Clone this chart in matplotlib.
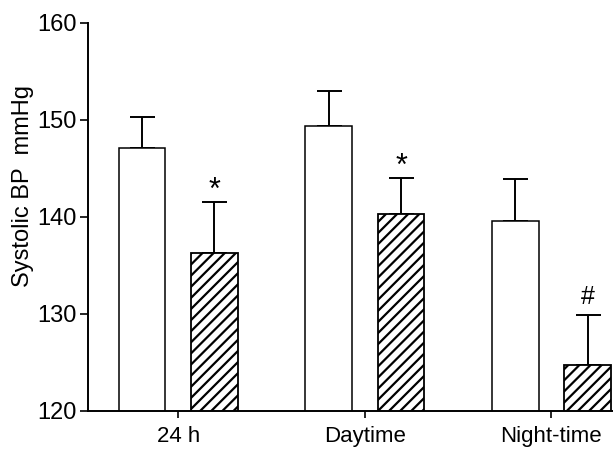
import matplotlib.pyplot as plt
import numpy as np

# --- DATA ---
periods = ["24 h", "Daytime", "Night-time"]
open_mean = [147.1, 149.4, 139.6]
open_err = [3.2, 3.6, 4.3]
hatched_mean = [136.3, 140.3, 124.7]
hatched_err = [5.2, 3.7, 5.2]
hatched_marks = ["*", "*", "#"]

FONT = ["Liberation Sans Narrow", "Liberation Sans", "DejaVu Sans"]
plt.rcParams['font.family'] = FONT
plt.rcParams['hatch.linewidth'] = 1.6
plt.rcParams['hatch.color'] = 'black'

fig = plt.figure(figsize=(6.13, 4.53), dpi=100)
ax = fig.add_axes([88 / 613, 42 / 453, 1 - 88 / 613, 388 / 453])

x = np.arange(len(periods))
w = 0.25
off = 0.194

ax.bar(x - off, open_mean, w, color='white', edgecolor='black', linewidth=1.1, zorder=2)
ax.bar(x + off, hatched_mean, w, color='white', edgecolor='black', linewidth=1.3, hatch='///', zorder=2)

# only the upper half of the error bars
ax.errorbar(x - off, open_mean, yerr=[np.zeros(3), open_err], fmt='none',
            ecolor='black', elinewidth=1.4, capsize=9, capthick=1.4, zorder=1)
ax.errorbar(x + off, hatched_mean, yerr=[np.zeros(3), hatched_err], fmt='none',
            ecolor='black', elinewidth=1.4, capsize=9, capthick=1.4, zorder=1)

for xi, m, e, s in zip(x + off, hatched_mean, hatched_err, hatched_marks):
    if s == '#':
        ax.annotate(s, (xi, m + e), xytext=(0, 13), textcoords='offset points',
                    ha='center', va='center', fontsize=18)
    else:
        ax.annotate(s, (xi, m + e), xytext=(0, 8), textcoords='offset points',
                    ha='center', va='center', fontsize=22)

ax.set_ylim(120, 160)
ax.set_xlim(-0.484, 2.33)
ax.set_yticks([120, 130, 140, 150, 160])
ax.set_xticks(x)
ax.set_xticklabels(periods)
ax.tick_params(axis='y', direction='out', length=6, width=1.2, labelsize=17, pad=2)
ax.tick_params(axis='x', direction='out', length=5, width=1.2, labelsize=16, pad=6)

for side in ['top', 'right']:
    ax.spines[side].set_visible(False)
for side in ['left', 'bottom']:
    ax.spines[side].set_linewidth(1.4)

ax.set_ylabel("Systolic BP  mmHg", fontsize=17)
ax.yaxis.set_label_coords(-0.103, 0.58)

fig.savefig("out.png", dpi=100)
